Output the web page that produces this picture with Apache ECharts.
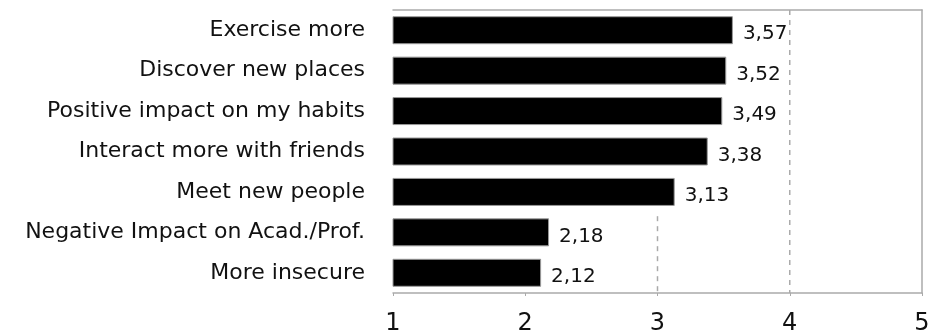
<!DOCTYPE html>
<html>
<head>
<meta charset="utf-8">
<script src="https://cdn.jsdelivr.net/npm/echarts@6/dist/echarts.min.js"></script>
<style>
  html, body { margin: 0; padding: 0; background: #fff; }
  #chart { width: 939px; height: 336px; }
</style>
</head>
<body>
<div id="chart"></div>
<script>
const categories = [
  'Exercise more',
  'Discover new places',
  'Positive impact on my habits',
  'Interact more with friends',
  'Meet new people',
  'Negative Impact on Acad./Prof.',
  'More insecure'
];
const values = [3.57, 3.52, 3.49, 3.38, 3.13, 2.18, 2.12];
const axisMin = 1;
const axisMax = 5;
// dashed reference lines: [x value, row position] (rows 0..7 top to bottom)
const gridLine3 = [[3, 5.1], [3, 7]];
const gridLine4 = [[4, 0], [4, 7]];

const font = 'DejaVu Sans';
const gray = '#aaaaaa';

const chart = echarts.init(document.getElementById('chart'), null, { renderer: 'canvas' });

const dashSeries = (d) => ({
  type: 'line', xAxisIndex: 0, yAxisIndex: 2, data: d,
  symbol: 'none', silent: true, z: 1,
  lineStyle: { color: gray, type: [5, 5], width: 1.5 }
});

chart.setOption({
  animation: false,
  backgroundColor: '#ffffff',
  grid: { left: 393, right: 17, top: 10, bottom: 41, containLabel: false },
  xAxis: [
    {
      type: 'value', min: axisMin, max: axisMax, interval: 1, position: 'bottom',
      axisLine: { show: true, onZero: false, lineStyle: { color: gray, width: 1.5 } },
      axisTick: { show: true, length: 3, lineStyle: { color: gray } },
      splitLine: { show: false },
      axisLabel: { fontFamily: font, fontSize: 24, color: '#111', margin: 19 }
    },
    {
      type: 'value', min: axisMin, max: axisMax, position: 'top',
      axisLine: { show: true, onZero: false, lineStyle: { color: gray, width: 1.5 } },
      axisTick: { show: false }, axisLabel: { show: false }, splitLine: { show: false }
    }
  ],
  yAxis: [
    {
      type: 'category', data: categories, inverse: true,
      axisLine: { show: false, onZero: false }, axisTick: { show: false },
      axisLabel: { fontFamily: font, fontSize: 22, color: '#111', margin: 28, padding: [8, 0, 0, 0] }
    },
    {
      type: 'category', data: categories, inverse: true, position: 'right',
      axisLine: { show: true, onZero: false, lineStyle: { color: gray, width: 1.5 } },
      axisTick: { show: false }, axisLabel: { show: false }
    },
    {
      type: 'value', min: 0, max: 7, inverse: true, show: false
    }
  ],
  series: [
    dashSeries(gridLine3),
    dashSeries(gridLine4),
    {
      type: 'bar',
      data: values,
      barWidth: 28,
      clip: true,
      z: 2,
      itemStyle: { color: '#000', borderColor: '#999', borderWidth: 1 },
      label: {
        show: true, position: 'right', distance: 10, offset: [0, 4],
        fontFamily: font, fontSize: 20, color: '#111',
        formatter: p => p.value.toFixed(2).replace('.', ',')
      }
    }
  ]
});
</script>
</body>
</html>
